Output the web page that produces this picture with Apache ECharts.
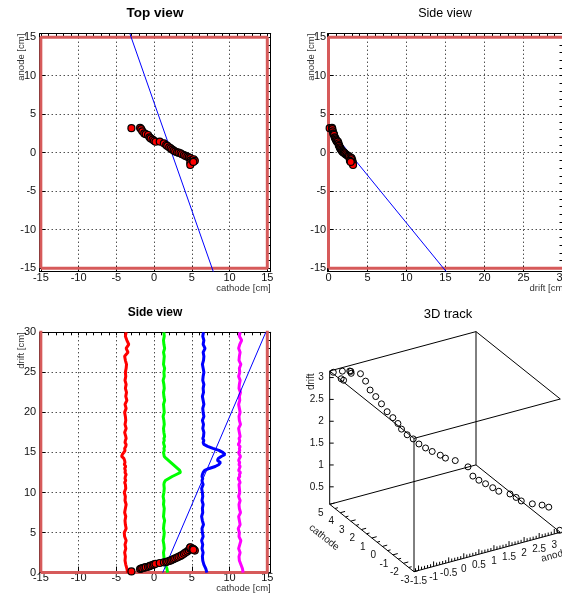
<!DOCTYPE html>
<html><head><meta charset="utf-8">
<script src="https://cdn.jsdelivr.net/npm/echarts@6/dist/echarts.min.js"></script>
<style>html,body{margin:0;padding:0;background:#fff}#c{width:577px;height:598px}</style>
</head><body><div id="c"></div>
<script>
// ---------- data ----------
const trackCathode = [-3.0,-1.85,-1.7,-1.55,-1.3,-1.1,-0.8,-0.6,-0.45,-0.2,0.0,0.2,0.75,1.3,1.6,1.75,2.0,2.2,2.4,2.6,2.8,3.05,3.25,3.5,3.7,3.95,4.15,4.4,4.6,4.8,4.85,4.8,4.8,5.1,5.25,5.4,5.2];
const trackAnode   = [3.18,3.22,3.05,2.78,2.5,2.4,2.3,2.0,1.85,1.7,1.55,1.42,1.45,1.22,1.0,0.88,0.7,0.55,0.4,0.28,0.15,0.05,0.0,-0.08,-0.2,-0.3,-0.42,-0.52,-0.6,-0.7,-1.0,-1.3,-1.6,-0.95,-0.85,-1.05,-1.2];
const trackDrift   = [0.15,0.45,0.5,0.55,0.62,0.68,0.72,0.8,0.88,0.95,1.02,1.1,1.2,1.28,1.32,1.38,1.45,1.52,1.6,1.7,1.78,1.88,1.98,2.08,2.2,2.35,2.5,2.62,2.8,2.95,3.05,3.12,3.15,3.0,2.9,2.75,2.85];

// fitted track line, as seen in each view (endpoints)
const topFitCathode = [-3.2, 7.85];
const topFitAnode   = [15.45, -15.45];
const sideFitDrift  = [0, 15.1];
const sideFitAnode  = [3.28, -15.45];
const botFitCathode = [1.15, 14.8];
const botFitDrift   = [0, 30];

// detector boundary
const detCathode = [-15, 15];
const detAnode   = [-15, 15];
const detDrift   = [0, 32];

// waveforms (cathode position vs drift)
const waveDrift = [0,0.5,1,1.5,2,2.5,3,3.5,4,4.5,5,5.5,6,6.5,7,7.5,8,8.5,9,9.5,10,10.5,
  11,11.25,11.5,11.75,12,12.25,12.5,12.75,13,13.25,13.5,13.75,14,14.25,14.5,14.75,15,15.25,15.5,15.75,16,16.25,16.5,16.75,17,
  17.5,18,18.5,19,19.5,20,20.5,21,21.5,22,22.5,23,23.5,24,24.5,25,25.5,26,26.5,27,27.5,28,28.5,29,29.5,30];
const waveRed = [-3.5,-3.6,-3.75,-3.85,-3.8,-3.9,-3.75,-3.85,-3.7,-3.9,-3.95,-3.7,-3.8,-3.85,-3.75,-3.9,-3.8,-3.7,-3.85,-3.8,-3.95,-3.75,
  -3.8,-3.9,-3.75,-3.85,-3.8,-3.7,-3.85,-3.8,-3.9,-3.75,-3.95,-3.85,-3.9,-4.0,-4.3,-4.2,-4.0,-3.85,-3.9,-3.75,-3.7,-3.85,-3.8,-3.7,-3.75,
  -3.9,-3.7,-3.85,-3.75,-3.8,-3.9,-3.7,-3.85,-3.6,-3.75,-3.65,-3.8,-3.7,-3.85,-3.75,-3.8,-3.7,-3.65,-3.8,-3.9,-3.45,-3.7,-3.35,-3.6,-3.8,-3.7];
const waveGreen = [1.8,1.7,1.5,1.35,1.3,1.25,1.35,1.3,1.2,1.3,1.35,1.25,1.3,1.4,1.25,1.3,1.35,1.25,1.3,1.2,1.3,1.35,
  1.3,1.35,1.5,1.95,2.4,2.95,3.5,3.4,3.1,2.8,2.5,2.2,1.9,1.6,1.35,1.3,1.25,1.35,1.3,1.4,1.3,1.25,1.35,1.3,1.4,
  1.3,1.25,1.35,1.3,1.2,1.35,1.3,1.25,1.4,1.3,1.25,1.35,1.3,1.2,1.35,1.3,1.4,1.25,1.3,1.35,1.25,1.4,1.3,1.25,1.35,1.3];
const waveBlue = [7.0,6.85,6.6,6.45,6.4,6.5,6.35,6.45,6.3,6.5,6.4,6.35,6.55,6.4,6.3,6.45,6.4,6.5,6.35,6.45,6.4,6.3,
  6.5,6.4,6.35,6.45,6.35,6.4,6.5,6.7,7.3,8.1,8.6,8.8,8.4,8.5,8.9,9.4,9.1,8.6,7.8,7.1,6.6,6.5,6.6,6.45,6.55,
  6.6,6.45,6.55,6.4,6.6,6.5,6.45,6.6,6.5,6.4,6.55,6.5,6.6,6.45,6.5,6.6,6.5,6.4,6.55,6.6,6.5,6.75,6.5,6.6,6.45,6.55];
const waveMagenta = [11.8,11.7,11.5,11.3,11.25,11.4,11.2,11.35,11.5,11.25,11.3,11.15,11.4,11.3,11.2,11.45,11.3,11.25,11.4,11.2,11.35,11.3,
  11.25,11.4,11.3,11.15,11.35,11.3,11.45,11.2,11.3,11.4,11.25,11.35,11.2,11.3,11.45,11.3,11.2,11.35,11.3,11.4,11.15,11.3,11.35,11.25,11.4,
  11.3,11.2,11.45,11.3,11.25,11.4,11.3,11.2,11.35,11.3,11.45,11.25,11.3,11.4,11.2,11.35,11.3,11.5,11.25,11.3,11.4,11.2,11.35,11.6,11.3,11.4];

// tick labels
const ticks15  = [-15,-10,-5,0,5,10,15];
const minor15  = [-15,-14,-13,-12,-11,-10,-9,-8,-7,-6,-5,-4,-3,-2,-1,0,1,2,3,4,5,6,7,8,9,10,11,12,13,14,15];
const ticks30  = [0,5,10,15,20,25,30];
const minor30  = [0,1,2,3,4,5,6,7,8,9,10,11,12,13,14,15,16,17,18,19,20,21,22,23,24,25,26,27,28,29,30];

// 3D box ranges and ticks
const box3dCathode = [-3, 5];
const box3dAnode   = [-1.65, 3.2];
const box3dDrift   = [0.1, 3.15];
const tick3dDrift   = [0.5,1,1.5,2,2.5,3];
const tick3dCathode = [-3,-2,-1,0,1,2,3,4,5];
const minor3dCathode = [-2.5,-1.5,-0.5,0.5,1.5,2.5,3.5,4.5];
const tick3dAnode   = [-1.5,-1,-0.5,0,0.5,1,1.5,2,2.5,3];
const minor3dAnode  = [-1.6,-1.4,-1.3,-1.2,-1.1,-0.9,-0.8,-0.7,-0.6,-0.4,-0.3,-0.2,-0.1,0.1,0.2,0.3,0.4,0.6,0.7,0.8,0.9,1.1,1.2,1.3,1.4,1.6,1.7,1.8,1.9,2.1,2.2,2.3,2.4,2.6,2.7,2.8,2.9,3.1];

// ---------- layout / style ----------
const FONT = '"Liberation Sans", Arial, Helvetica, sans-serif';
const RED_BOX = '#d65a5a';
const P0 = [414, 571.7], VC = [-84.3, -67.4], VA = [146.3, -39.4], VD = [0, -133.3];

function proj(c, a, d) {
  const fc = (c - box3dCathode[0]) / (box3dCathode[1] - box3dCathode[0]);
  const fa = (a - box3dAnode[0]) / (box3dAnode[1] - box3dAnode[0]);
  const fd = (d - box3dDrift[0]) / (box3dDrift[1] - box3dDrift[0]);
  return [P0[0] + fc*VC[0] + fa*VA[0] + fd*VD[0], P0[1] + fc*VC[1] + fa*VA[1] + fd*VD[1]];
}

function mainAxis(pos, grid, min, max, vals, margin) {
  return {type:'value', gridIndex:grid, position:pos, min:min, max:max,
    axisLine:{show:true, onZero:false, lineStyle:{color:'#000', width:1}},
    axisTick:{show:true, inside:true, length:6, customValues:vals, lineStyle:{color:'#000', width:1}},
    minorTick:{show:false},
    axisLabel:{show:true, customValues:vals, margin:margin, color:'#111', fontSize:11, fontFamily:FONT, hideOverlap:false, showMinLabel:true, showMaxLabel:true},
    splitLine:{show:true, lineStyle:{color:'#000', width:1, type:[1,3]}},
    splitArea:{show:false}};
}
function sideAxis(pos, grid, min, max, vals) {
  return {type:'value', gridIndex:grid, position:pos, min:min, max:max,
    axisLine:{show:true, onZero:false, lineStyle:{color:'#000', width:1}},
    axisTick:{show:true, inside:true, length:3, customValues:vals, lineStyle:{color:'#000', width:1}},
    minorTick:{show:false},
    axisLabel:{show:false}, splitLine:{show:false}, splitArea:{show:false}};
}
function rectPath(xs, ys) {
  return [[xs[0],ys[0]],[xs[1],ys[0]],[xs[1],ys[1]],[xs[0],ys[1]],[xs[0],ys[0]]];
}
function zip(a, b) { return a.map((v, i) => [v, b[i]]); }

const redBox = (xi, yi, data) => ({type:'line', xAxisIndex:xi, yAxisIndex:yi, data:data, symbol:'none', silent:true,
  lineStyle:{color:RED_BOX, width:3}, z:3, clip:true});
const fitLine = (xi, yi, data) => ({type:'line', xAxisIndex:xi, yAxisIndex:yi, data:data, symbol:'none', silent:true,
  lineStyle:{color:'#0000ff', width:1}, z:4, clip:true});
const hits = (xi, yi, data) => ({type:'scatter', xAxisIndex:xi, yAxisIndex:yi, data:data, symbol:'circle', symbolSize:7, silent:true,
  itemStyle:{color:'#ff0000', borderColor:'#000', borderWidth:1.2, opacity:1}, z:5});
const wave = (data, color) => ({type:'line', xAxisIndex:4, yAxisIndex:4, data:data, symbol:'none', silent:true,
  lineStyle:{color:color, width:3}, z:3, clip:true});

// 3D box group
function boxRender(params, api) {
  const cm = box3dCathode, am = box3dAnode, dm = box3dDrift;
  const A=[cm[1],am[0],dm[1]], B=[cm[1],am[1],dm[1]], C=[cm[0],am[1],dm[1]], D=[cm[0],am[0],dm[1]];
  const A2=[cm[1],am[0],dm[0]], B2=[cm[1],am[1],dm[0]], C2=[cm[0],am[1],dm[0]], D2=[cm[0],am[0],dm[0]];
  const edges = [[A,B],[B,C],[C,D],[D,A],[A2,B2],[B2,C2],[C2,D2],[D2,A2],[A,A2],[B,B2],[D,D2]];
  const ch = [];
  const ln = (p, q, w) => ({type:'line', shape:{x1:p[0], y1:p[1], x2:q[0], y2:q[1]}, style:{stroke:'#000', lineWidth:w||1}});
  const tx = (t, x, y, al, va) => ({type:'text', x:x, y:y, style:{text:t, font:'10px ' + FONT, fill:'#111', align:al, verticalAlign:va}});
  edges.forEach(e => ch.push(ln(proj.apply(null, e[0]), proj.apply(null, e[1]), 1)));
  tick3dDrift.forEach(d => { const p = proj(cm[1], am[0], d); ch.push(ln(p, [p[0]+4, p[1]])); ch.push(tx(String(d), p[0]-6, p[1], 'right', 'middle')); });
  const la = Math.hypot(VA[0], VA[1]);
  tick3dCathode.forEach(c => { const p = proj(c, am[0], dm[0]); ch.push(ln(p, [p[0]+VA[0]/la*5, p[1]+VA[1]/la*5])); ch.push(tx(String(c), p[0]-9, p[1]+9, 'center', 'middle')); });
  minor3dCathode.forEach(c => { const p = proj(c, am[0], dm[0]); ch.push(ln(p, [p[0]+VA[0]/la*3, p[1]+VA[1]/la*3])); });
  tick3dAnode.forEach(a => { const p = proj(cm[0], a, dm[0]); ch.push(ln(p, [p[0], p[1]-5])); ch.push(tx(String(a), p[0], p[1]+11, 'center', 'middle')); });
  minor3dAnode.forEach(a => { const p = proj(cm[0], a, dm[0]); ch.push(ln(p, [p[0], p[1]-3])); });
  return {type:'group', children:ch};
}

const option = {
  animation:false,
  backgroundColor:'#fff',
  textStyle:{fontFamily:FONT},
  grid:[
    {left:39.7, top:33.7, width:231, height:238, show:false, containLabel:false, outerBoundsMode:'none'},
    {left:327.7, top:33.7, width:234.8, height:238, show:false, containLabel:false, outerBoundsMode:'none'},
    {left:39.7, top:332.3, width:231, height:240.3, show:false, containLabel:false, outerBoundsMode:'none'}
  ],
  xAxis:[
    mainAxis('bottom', 0, -15.15, 15.45, ticks15, 1),
    sideAxis('top', 0, -15.15, 15.45, minor15),
    mainAxis('bottom', 1, -0.1, 30.0, ticks30, 1),
    sideAxis('top', 1, -0.1, 30.0, minor30),
    mainAxis('bottom', 2, -15.15, 15.45, ticks15, 0),
    sideAxis('top', 2, -15.15, 15.45, minor15)
  ],
  yAxis:[
    mainAxis('left', 0, -15.45, 15.45, ticks15, 3.5),
    sideAxis('right', 0, -15.45, 15.45, minor15),
    mainAxis('left', 1, -15.45, 15.45, ticks15, 1.5),
    sideAxis('right', 1, -15.45, 15.45, minor15),
    mainAxis('left', 2, 0, 30, ticks30, 3.5),
    sideAxis('right', 2, 0, 30, minor30)
  ],
  series:[
    // top view
    redBox(0, 0, rectPath(detCathode, detAnode)),
    fitLine(0, 0, zip(topFitCathode, topFitAnode)),
    hits(0, 0, zip(trackCathode, trackAnode)),
    // side view (drift vs anode)
    redBox(2, 2, rectPath(detDrift, detAnode)),
    fitLine(2, 2, zip(sideFitDrift, sideFitAnode)),
    hits(2, 2, zip(trackDrift, trackAnode)),
    // side view (cathode vs drift)
    redBox(4, 4, rectPath(detCathode, detDrift)),
    wave(zip(waveRed, waveDrift), '#ff0000'),
    wave(zip(waveGreen, waveDrift), '#00ff00'),
    wave(zip(waveBlue, waveDrift), '#0000ff'),
    wave(zip(waveMagenta, waveDrift), '#ff00ff'),
    fitLine(4, 4, zip(botFitCathode, botFitDrift)),
    hits(4, 4, zip(trackCathode, trackDrift)),
    // 3D track
    {type:'custom', coordinateSystem:'none', silent:true, z:4, data:[[0]], renderItem:boxRender},
    {type:'custom', coordinateSystem:'none', silent:true, z:5,
      data: trackCathode.map((c, i) => [c, trackAnode[i], trackDrift[i]]),
      renderItem:function(params, api){
        const p = proj(api.value(0), api.value(1), api.value(2));
        return {type:'circle', shape:{cx:p[0], cy:p[1], r:3}, style:{fill:'none', stroke:'#000', lineWidth:1}};
      }}
  ],
  graphic:{elements:[
    {type:'text', x:155, y:13.5, style:{text:'Top view', font:'bold 13.5px ' + FONT, fill:'#000', align:'center', verticalAlign:'middle'}},
    {type:'text', x:445, y:14, style:{text:'Side view', font:'12.5px ' + FONT, fill:'#000', align:'center', verticalAlign:'middle'}},
    {type:'text', x:155, y:312.5, style:{text:'Side view', font:'bold 12px ' + FONT, fill:'#000', align:'center', verticalAlign:'middle'}},
    {type:'text', x:448, y:314, style:{text:'3D track', font:'13px ' + FONT, fill:'#000', align:'center', verticalAlign:'middle'}},
    {type:'text', x:21.7, y:33.7, rotation:Math.PI/2, style:{text:'anode [cm]', font:'9.5px ' + FONT, fill:'#333', align:'right', verticalAlign:'middle'}},
    {type:'text', x:270.7, y:288.3, style:{text:'cathode [cm]', font:'9.5px ' + FONT, fill:'#333', align:'right', verticalAlign:'middle'}},
    {type:'text', x:311.5, y:33.7, rotation:Math.PI/2, style:{text:'anode [cm]', font:'9.5px ' + FONT, fill:'#333', align:'right', verticalAlign:'middle'}},
    {type:'text', x:566, y:288.3, style:{text:'drift [cm]', font:'9.5px ' + FONT, fill:'#333', align:'right', verticalAlign:'middle'}},
    {type:'text', x:21.7, y:332.3, rotation:Math.PI/2, style:{text:'drift [cm]', font:'9.5px ' + FONT, fill:'#333', align:'right', verticalAlign:'middle'}},
    {type:'text', x:270.7, y:588.3, style:{text:'cathode [cm]', font:'9.5px ' + FONT, fill:'#333', align:'right', verticalAlign:'middle'}},
    {type:'text', x:311.3, y:381.7, rotation:Math.PI/2, style:{text:'drift', font:'10px ' + FONT, fill:'#222', align:'center', verticalAlign:'middle'}},
    {type:'text', x:324, y:537.5, rotation:-0.674, style:{text:'cathode', font:'10px ' + FONT, fill:'#222', align:'center', verticalAlign:'middle'}},
    {type:'text', x:541.3, y:559, rotation:0.263, style:{text:'anode', font:'10px ' + FONT, fill:'#222', align:'left', verticalAlign:'middle'}},
    {type:'rect', shape:{x:562, y:0, width:20, height:598}, style:{fill:'#fff'}, z:100}
  ]}
};

const chart = echarts.init(document.getElementById('c'), null, {renderer:'canvas'});
chart.setOption(option);
</script>
</body></html>
